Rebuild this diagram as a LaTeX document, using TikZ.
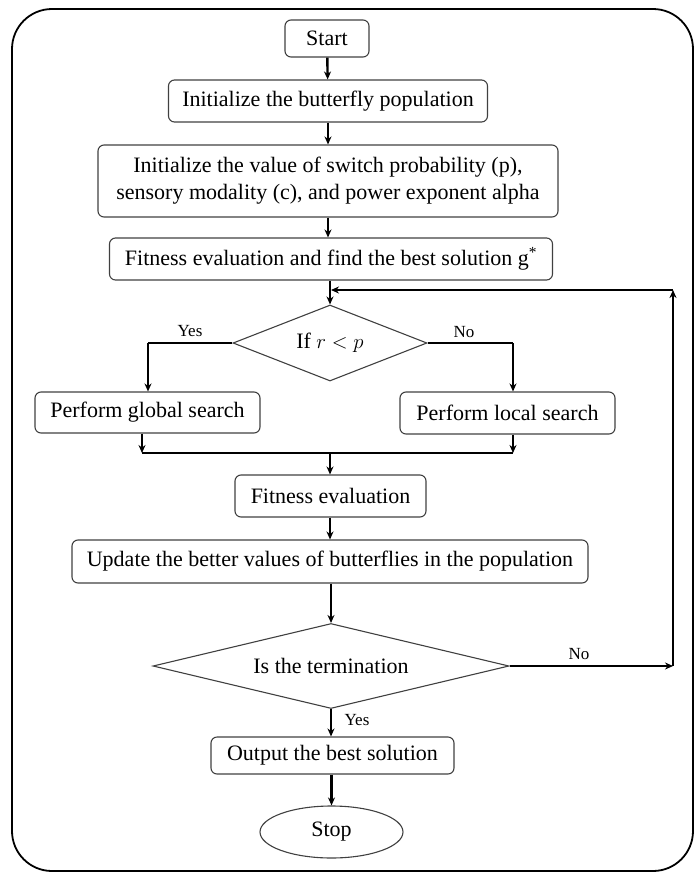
\documentclass[tikz,border=0pt]{standalone}
\usepackage{fontspec}
\setmainfont{Liberation Serif}
\usetikzlibrary{shapes.geometric,arrows.meta}
\begin{document}
\begin{tikzpicture}[x=1pt,y=-1pt,
  font=\fontsize{22}{27}\selectfont,
  box/.style={draw=black!75,line width=1.1pt,rounded corners=6pt,inner sep=0pt,align=center},
  dec/.style={draw=black!75,line width=1.1pt,shape=diamond,inner sep=0pt},
  conn/.style={line width=2.4pt,black},
  arr/.style={conn,-{Stealth[length=8pt,width=7pt]}},
  lab/.style={font=\fontsize{17}{20}\selectfont,inner sep=0pt}]
\useasboundingbox (0,0) rectangle (694,873);
\draw[line width=1.8pt,rounded corners=40pt] (12,9) rectangle (693,871);
\node[box,minimum width=84pt,minimum height=37pt] (start) at (327,38.5) {Start};
\node[box,minimum width=319pt,minimum height=42pt] (pop) at (328,101) {Initialize the butterfly population};
\node[box,minimum width=460pt,minimum height=72pt] (init) at (328,181) {Initialize the value of switch probability (p),\\sensory modality (c), and power exponent alpha};
\node[box,minimum width=443pt,minimum height=42pt] (fit1) at (331,259) {Fitness evaluation and find the best solution g\textsuperscript{*}};
\node[dec,minimum width=194pt,minimum height=76pt,aspect=2.55] (d1) at (330,343) {If $r<p$};
\node[box,minimum width=225pt,minimum height=41pt] (glob) at (147.5,412.5) {Perform global search};
\node[box,minimum width=215pt,minimum height=42pt] (loc) at (507.5,413) {Perform local search};
\node[box,minimum width=191pt,minimum height=42pt] (fit2) at (330.5,496) {Fitness evaluation};
\node[box,minimum width=516pt,minimum height=43pt] (upd) at (330,561.5) {Update the better values of butterflies in the population};
\node[dec,minimum width=356pt,minimum height=85pt,aspect=4.2] (d2) at (331,666) {Is the termination};
\node[box,minimum width=243pt,minimum height=37pt] (out) at (332.5,755.5) {Output the best solution};
\node[draw=black!75,line width=1.1pt,ellipse,minimum width=143pt,minimum height=52pt,inner sep=0pt] (stop) at (331.5,832) {Stop};
\coordinate (gl) at (148,343);
\coordinate (lr) at (513,343);
\coordinate (m1) at (142,453);
\coordinate (m2) at (513,453);
\coordinate (mc) at (330,453);
\coordinate (r1) at (673,666);
\coordinate (r2) at (673,290);
\coordinate (jn) at (331,290);
\draw[arr] (start) -- (pop);
\draw[arr] (pop) -- (init);
\draw[arr] (init) -- (init|-fit1.north);
\draw[arr] (fit1.south-|d1) -- (d1.north);
\draw[conn] (d1.west) -- (gl);
\draw[arr] (gl) -- (glob.north-|gl);
\draw[conn] (d1.east) -- (lr);
\draw[arr] (lr) -- (loc.north-|lr);
\draw[arr] (glob.south-|m1) -- (m1);
\draw[arr] (loc.south-|m2) -- (m2);
\draw[conn] (m1) -- (m2);
\draw[arr] (mc) -- (fit2.north-|mc);
\draw[arr] (fit2.south-|mc) -- (upd.north-|mc);
\draw[arr] (upd.south-|d2) -- (d2.north);
\draw[arr] (d2.south) -- (out.north-|d2);
\draw[arr] (out.south-|stop) -- (stop.north);
\draw[arr] (d2.east) -- (r1);
\draw[arr] (r1) -- (r2);
\draw[arr] (r2) -- (jn);
\node[lab] (yes1) at (190,331) {Yes};
\node[lab] (no1) at (464,332) {No};
\node[lab] (no2) at (579,654) {No};
\node[lab] (yes2) at (357,720) {Yes};
\end{tikzpicture}
\end{document}
